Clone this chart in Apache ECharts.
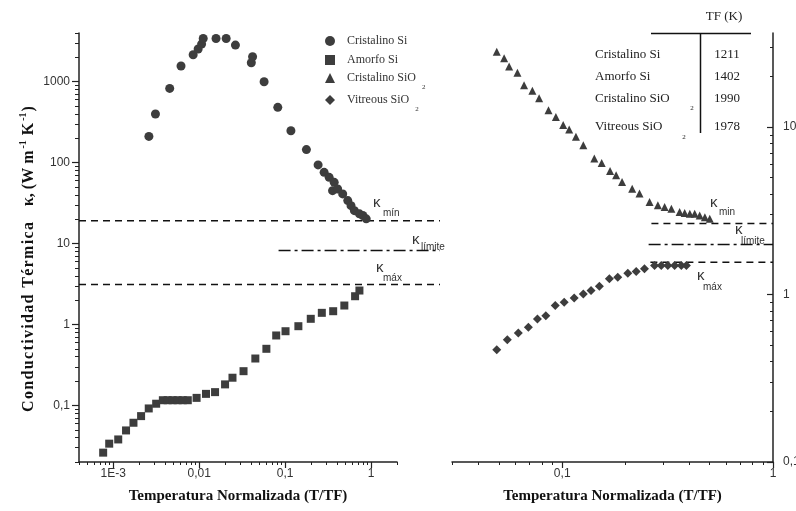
<!DOCTYPE html>
<html>
<head>
<meta charset="utf-8">
<script src="https://cdn.jsdelivr.net/npm/echarts@6/dist/echarts.min.js"></script>
<style>
  html, body { margin: 0; padding: 0; background: #fff; }
  #chart { width: 796px; height: 511px; }
</style>
</head>
<body>
<div id="chart"></div>
<script>
// 数据
const siCrisX = [0.0026, 0.0031, 0.00454, 0.00615, 0.00851, 0.00973, 0.01067, 0.01114, 0.0157, 0.0206, 0.0264, 0.0404, 0.0418, 0.0569, 0.0821, 0.1167, 0.1767, 0.2417, 0.284, 0.325, 0.356, 0.372, 0.408, 0.467, 0.535, 0.584, 0.639, 0.731, 0.801, 0.877];
const siCrisY = [211, 399, 826, 1563, 2154, 2535, 2920, 3424, 3424, 3424, 2838, 1717, 2036, 1000, 482, 248, 145, 93.7, 75.9, 65.9, 45.1, 57.1, 47.3, 41.1, 34.0, 29.4, 25.5, 23.3, 22.2, 20.2];

const siAmorX = [0.000764, 0.000898, 0.001144, 0.00141, 0.00172, 0.00211, 0.00259, 0.00316, 0.00378, 0.0043, 0.00492, 0.00562, 0.00644, 0.00737, 0.00933, 0.012, 0.0153, 0.02, 0.0244, 0.0328, 0.045, 0.0605, 0.0787, 0.101, 0.1425, 0.1986, 0.267, 0.362, 0.488, 0.651, 0.731];
const siAmorY = [0.0261, 0.0337, 0.038, 0.0491, 0.0611, 0.0738, 0.0918, 0.105, 0.116, 0.116, 0.116, 0.116, 0.116, 0.116, 0.124, 0.139, 0.146, 0.182, 0.22, 0.265, 0.38, 0.501, 0.732, 0.826, 0.953, 1.176, 1.394, 1.46, 1.716, 2.236, 2.63];

const sio2CrisX = [0.0489, 0.053, 0.056, 0.0613, 0.0659, 0.0722, 0.0777, 0.0861, 0.0933, 0.1011, 0.1079, 0.1162, 0.1259, 0.142, 0.1539, 0.1687, 0.1802, 0.1923, 0.2148, 0.2327, 0.2596, 0.2844, 0.3061, 0.3296, 0.3606, 0.381, 0.403, 0.425, 0.449, 0.475, 0.501];
const sio2CrisY = [28.2, 25.8, 23.0, 21.1, 17.8, 16.5, 14.9, 12.6, 11.5, 10.3, 9.68, 8.75, 7.8, 6.5, 6.11, 5.47, 5.16, 4.7, 4.29, 4.01, 3.57, 3.41, 3.33, 3.26, 3.11, 3.07, 3.04, 3.04, 2.97, 2.9, 2.84];

const sio2VitX = [0.0489, 0.0549, 0.0619, 0.0691, 0.0763, 0.0836, 0.0927, 0.1022, 0.114, 0.1259, 0.137, 0.1501, 0.1674, 0.1834, 0.2047, 0.2244, 0.2456, 0.2742, 0.2951, 0.317, 0.3414, 0.3674, 0.3882];
const sio2VitY = [0.469, 0.538, 0.59, 0.637, 0.715, 0.748, 0.859, 0.899, 0.955, 1.009, 1.057, 1.122, 1.242, 1.271, 1.342, 1.374, 1.426, 1.493, 1.493, 1.493, 1.493, 1.493, 1.493];

// κ mín, κ límite, κ máx
const kLeftY = [19.2, 8.2, 3.12];
const kLeftX = [[4e-4, 6.32], [0.0838, 6.32], [4e-4, 6.32]];
const kRightY = [2.66, 1.99, 1.56];
const kRightX = [[0.265, 1], [0.257, 1], [0.262, 1]];

// ticks
const leftXTicks = [0.001, 0.01, 0.1, 1];
const leftXLabels = ['1E-3', '0,01', '0,1', '1'];
const leftYTicks = [0.1, 1, 10, 100, 1000];
const leftYLabels = ['0,1', '1', '10', '100', '1000'];
const rightXTicks = [0.1, 1];
const rightXLabels = ['0,1', '1'];
const rightYTicks = [0.1, 1, 10];
const rightYLabels = ['0,1', '1', '10'];

const seriesNames = ['Cristalino Si', 'Amorfo Si', 'Cristalino SiO2', 'Vitreous SiO2'];
const tfNames = ['Cristalino Si', 'Amorfo Si', 'Cristalino SiO', 'Vitreous SiO'];
const tfValues = ['1211', '1402', '1990', '1978'];

const INK = '#222';
const MARK = '#3d3d3d';
const SANS = 'Liberation Sans, Arial, sans-serif';
const SERIF = 'Liberation Serif, Times New Roman, serif';

function zip(xs, ys) {
    return xs.map((x, i) => [x, ys[i]]);
}

// ticks menores 2..9 en cada década
function minorTicks(min, max) {
    const out = [];
    for (let e = Math.floor(Math.log10(min)); e <= Math.ceil(Math.log10(max)); e++) {
        for (let m = 2; m <= 9; m++) {
            const v = m * Math.pow(10, e);
            if (v >= min * 0.999 && v <= max * 1.001) out.push(v);
        }
    }
    return out;
}

function labelFor(ticks, labels) {
    return function (v) {
        const i = ticks.findIndex(t => Math.abs(Math.log10(t) - Math.log10(v)) < 1e-6);
        return i >= 0 ? labels[i] : '';
    };
}

const tickLabelStyle = { color: '#333', fontFamily: SANS, fontSize: 12 };
const titleStyle = { color: '#111', fontFamily: SERIF, fontSize: 15, fontWeight: 'bold' };

function majorAxis(gridIndex, pos, min, max, ticks, labels, tickLen, inside, margin, extra) {
    return Object.assign({
        type: 'log', logBase: 10, gridIndex: gridIndex, position: pos, min: min, max: max,
        axisLine: { show: true, lineStyle: { color: INK, width: 1.5 } },
        axisTick: { show: true, customValues: ticks, length: tickLen, inside: inside, lineStyle: { color: INK, width: 1.2 } },
        axisLabel: Object.assign({ customValues: ticks, formatter: labelFor(ticks, labels), margin: margin, hideOverlap: false }, tickLabelStyle),
        splitLine: { show: false }
    }, extra || {});
}

function minorAxis(gridIndex, pos, min, max, tickLen, inside) {
    return {
        type: 'log', logBase: 10, gridIndex: gridIndex, position: pos, min: min, max: max,
        axisLine: { show: false },
        axisTick: { show: true, customValues: minorTicks(min, max), length: tickLen, inside: inside, lineStyle: { color: INK, width: 1 } },
        axisLabel: { show: false },
        splitLine: { show: false }
    };
}

// eje oculto: solo para las líneas κ que salen del panel izquierdo
function hiddenAxis(gridIndex, min, max) {
    return {
        type: 'log', logBase: 10, gridIndex: gridIndex, min: min, max: max, show: false,
        axisLine: { show: false }, axisTick: { show: false }, axisLabel: { show: false }, splitLine: { show: false }
    };
}

const chart = echarts.init(document.getElementById('chart'));

function refLine(xAxisIndex, yAxisIndex, xs, y, type) {
    return {
        type: 'line', xAxisIndex: xAxisIndex, yAxisIndex: yAxisIndex,
        data: [[xs[0], y], [xs[1], y]], symbol: 'none', clip: false, silent: true,
        lineStyle: { color: '#111', width: 1.5, type: type }, z: 1
    };
}

const DASH = [7, 5];
const DASHDOT = [12, 4, 3, 4];

const series = [
    { name: seriesNames[0], type: 'scatter', xAxisIndex: 0, yAxisIndex: 0, data: zip(siCrisX, siCrisY), symbol: 'circle', symbolSize: 9, itemStyle: { color: MARK, opacity: 1 }, z: 3 },
    { name: seriesNames[1], type: 'scatter', xAxisIndex: 0, yAxisIndex: 0, data: zip(siAmorX, siAmorY), symbol: 'rect', symbolSize: 8, itemStyle: { color: MARK, opacity: 1 }, z: 3 },
    { name: seriesNames[2], type: 'scatter', xAxisIndex: 2, yAxisIndex: 2, data: zip(sio2CrisX, sio2CrisY), symbol: 'triangle', symbolSize: 8, itemStyle: { color: MARK, opacity: 1 }, z: 3 },
    { name: seriesNames[3], type: 'scatter', xAxisIndex: 2, yAxisIndex: 2, data: zip(sio2VitX, sio2VitY), symbol: 'diamond', symbolSize: 9, itemStyle: { color: MARK, opacity: 1 }, z: 3 },
    refLine(4, 4, kLeftX[0], kLeftY[0], DASH),
    refLine(4, 4, kLeftX[1], kLeftY[1], DASHDOT),
    refLine(4, 4, kLeftX[2], kLeftY[2], DASH),
    refLine(2, 2, kRightX[0], kRightY[0], DASH),
    refLine(2, 2, kRightX[1], kRightY[1], DASHDOT),
    refLine(2, 2, kRightX[2], kRightY[2], DASH)
];

// leyenda: una por fila
const legendTops = [35, 54, 72, 94];
const legendIcons = ['circle', 'rect', 'triangle', 'diamond'];
const legends = seriesNames.map((name, i) => ({
    data: [{ name: name, icon: legendIcons[i] }],
    left: 325, top: legendTops[i], padding: 0,
    itemWidth: 10, itemHeight: 10, itemGap: 0, selectedMode: false,
    formatter: n => n.replace('SiO2', 'SiO{sub|2}'),
    textStyle: {
        color: '#333', fontFamily: SERIF, fontSize: 12, padding: [0, 0, 0, 7],
        rich: { sub: { fontFamily: SERIF, fontSize: 7, color: '#333', verticalAlign: 'bottom', padding: [18, 0, 0, 6] } }
    }
}));

// textos κ
function kText(x, y, sub, xs, ys) {
    return [
        { type: 'text', x: x, y: y, style: { text: 'κ', fontFamily: SANS, fontSize: 15, fill: '#333', align: 'left', verticalAlign: 'middle' } },
        { type: 'text', x: xs, y: ys, style: { text: sub, fontFamily: SANS, fontSize: 10, fill: '#333', align: 'left', verticalAlign: 'middle' } }
    ];
}

const graphics = [].concat(
    kText(373, 203, 'mín', 383, 213),
    kText(412, 240, 'límite', 421, 247),
    kText(376, 268, 'máx', 383, 278),
    kText(710, 203, 'min', 719, 212),
    kText(735, 230, 'límite', 741, 241),
    kText(697, 276, 'máx', 703, 287)
);

// tabla TF
graphics.push({ type: 'text', x: 724, y: 17, style: { text: 'TF (K)', fontFamily: SERIF, fontSize: 13, fill: '#222', align: 'center', verticalAlign: 'middle' } });
graphics.push({ type: 'line', shape: { x1: 651, y1: 33.5, x2: 751, y2: 33.5 }, style: { stroke: '#111', lineWidth: 1.5 } });
graphics.push({ type: 'line', shape: { x1: 700.5, y1: 33, x2: 700.5, y2: 133 }, style: { stroke: '#111', lineWidth: 1.5 } });
const tfRowY = [55, 77, 99, 127];
tfNames.forEach((n, i) => {
    graphics.push({ type: 'text', x: 595, y: tfRowY[i], style: { text: n, fontFamily: SERIF, fontSize: 13, fill: '#222', align: 'left', verticalAlign: 'middle' } });
    graphics.push({ type: 'text', x: 727, y: tfRowY[i], style: { text: tfValues[i], fontFamily: SERIF, fontSize: 13, fill: '#222', align: 'center', verticalAlign: 'middle' } });
});
graphics.push({ type: 'text', x: 692, y: 108, style: { text: '2', fontFamily: SERIF, fontSize: 7, fill: '#222', align: 'center', verticalAlign: 'middle' } });
graphics.push({ type: 'text', x: 684, y: 137, style: { text: '2', fontFamily: SERIF, fontSize: 7, fill: '#222', align: 'center', verticalAlign: 'middle' } });

// título eje Y
const hs = '\u200A';
const spaced = s => s.split('').join(hs);
graphics.push({
    type: 'text', x: 29, y: 259, rotation: Math.PI / 2,
    style: {
        text: '{t|' + spaced('Conductividad Térmica') + '}{t|    κ, (W m}{s|-1}{t| K}{s|-1}{t|)}',
        align: 'center', verticalAlign: 'middle',
        rich: {
            t: { fontFamily: SERIF, fontSize: 16, fontWeight: 'bold', fill: '#111', lineHeight: 22 },
            s: { fontFamily: SERIF, fontSize: 10, fontWeight: 'bold', fill: '#111', verticalAlign: 'top', padding: [0, 1, 0, 2] }
        }
    }
});

const option = {
    backgroundColor: '#fff',
    animation: false,
    grid: [
        { left: 79, top: 33, width: 318, height: 429, outerBoundsMode: 'none' },
        { left: 452, top: 33, width: 321, height: 429, outerBoundsMode: 'none' },
        { left: 79, top: 33, width: 361, height: 429, outerBoundsMode: 'none' }
    ],
    xAxis: [
        majorAxis(0, 'bottom', 4e-4, 2, leftXTicks, leftXLabels, 6, false, 6, {
            name: 'Temperatura Normalizada (T/TF)', nameLocation: 'middle', nameGap: 27, nameTextStyle: titleStyle
        }),
        minorAxis(0, 'bottom', 4e-4, 2, 3, false),
        majorAxis(1, 'bottom', 0.03, 1, rightXTicks, rightXLabels, 6, false, 6, {
            name: 'Temperatura Normalizada (T/TF)', nameLocation: 'middle', nameGap: 27, nameTextStyle: titleStyle
        }),
        minorAxis(1, 'bottom', 0.03, 1, 3, false),
        hiddenAxis(2, 4e-4, 6.32)
    ],
    yAxis: [
        majorAxis(0, 'left', 0.02, 4000, leftYTicks, leftYLabels, 7, false, 9),
        minorAxis(0, 'left', 0.02, 4000, 4, false),
        majorAxis(1, 'right', 0.1, 36.5, rightYTicks, rightYLabels, 6, true, 10),
        minorAxis(1, 'right', 0.1, 36.5, 3, true),
        hiddenAxis(2, 0.02, 4000)
    ],
    legend: legends,
    series: series,
    graphic: { elements: graphics }
};

chart.setOption(option);
</script>
</body>
</html>
